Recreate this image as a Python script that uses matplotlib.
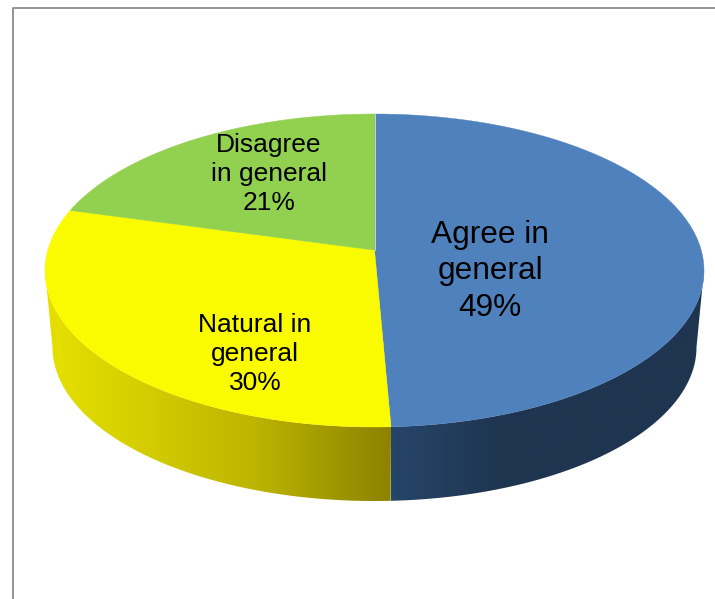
import numpy as np
import matplotlib
matplotlib.use("Agg")
import matplotlib.pyplot as plt
from matplotlib.colors import LinearSegmentedColormap

plt.rcParams['font.family'] = ['Liberation Sans', 'DejaVu Sans']

# data, clockwise from 12 o'clock (labels are rounded, shares estimated from the slices)
labels = ["Agree in\ngeneral\n49%", "Natural in\ngeneral\n30%", "Disagree\nin general\n21%"]
values = [49.3, 30.0, 20.7]
colors = ["#4F81BD", "#FBFB00", "#92D050"]
label_pos = [(490, 271.5), (255, 354), (269, 174)]
label_size = [22.8, 19, 19]

# ellipse of the top face and of the bottom rim (pixels)
top = (374.5, 270.5, 329.5, 156.5)
bot = (374.5, 347, 322, 154)
persp = 0.13  # the 3d view squeezes the far side a little


def proyeta(t, elipse):
    # angle on the disc -> pixel on the picture
    x, y = np.cos(t), np.sin(t)
    d = 1 + persp * y
    k = 1 - persp**2
    xp = x / d * np.sqrt(k)
    yp = (y / d + persp / k) * k
    cx, cy, rx, ry = elipse
    return np.column_stack([cx + rx * xp, cy - ry * yp])


fig = plt.figure(figsize=(7.15, 5.99), dpi=100)
ax = fig.add_axes([0, 0, 1, 1])
ax.axis("off")

# frame
ax.plot([12.5, 12.5, 715], [599, 7.5, 7.5], color="#8C8C8C", lw=1.3)

# angles of the slices
fracs = np.array(values) / sum(values)
ends = np.pi / 2 - 2 * np.pi * np.cumsum(fracs)
starts = np.r_[np.pi / 2, ends[:-1]]

wall_blue = LinearSegmentedColormap.from_list(
    "wb", [(0, "#26456A"), (0.35, "#1F3550"), (1, "#1F3550")])
wall_yellow = LinearSegmentedColormap.from_list(
    "wy", [(0, "#E6E000"), (0.25, "#D6D000"), (0.6, "#BDB500"), (1, "#8C8200")])
walls = [wall_blue, wall_yellow]

# side wall, gradient clipped to the front part of each slice
grad = np.linspace(0, 1, 512).reshape(1, -1)
for i in range(2):
    ts = np.linspace(starts[i], ends[i], 500)
    xs = proyeta(ts, top)[:, 0]
    # keep only what is in front of the outermost point of the rim
    if i == 0:
        ts = ts[np.argmax(xs):]
    else:
        ts = ts[:np.argmin(xs) + 1]
    p1 = proyeta(ts, top)
    p2 = proyeta(ts, bot)
    pts = np.vstack([p1, p2[::-1]])
    im = ax.imshow(grad, cmap=walls[i], aspect="auto", zorder=2,
                   extent=(pts[:, 0].min(), pts[:, 0].max(), 510, 100))
    clip = plt.Polygon(pts, closed=True, transform=ax.transData, fill=False, lw=0)
    ax.add_patch(clip)
    im.set_clip_path(clip)

# top face
cx, cy, rx, ry = top
hub = [cx, cy - ry * persp]
for a, b, c in zip(starts, ends, colors):
    ts = np.linspace(a, b, 400)
    pts = np.vstack([proyeta(ts, top), hub])
    ax.fill(pts[:, 0], pts[:, 1], color=c, lw=0.3, zorder=3)

# thin light line where blue meets green
p = proyeta(np.array([np.pi / 2]), top)[0]
ax.plot([p[0], hub[0]], [p[1], hub[1]], color="#C8D4C8", lw=0.7, zorder=4)

for txt, pos, s in zip(labels, label_pos, label_size):
    ax.text(pos[0], pos[1], txt, ha="center", va="center", fontsize=s,
            linespacing=1.27, color="black", zorder=5)

ax.set_xlim(0, 715)
ax.set_ylim(599, 0)
fig.savefig("out.png", dpi=100)
